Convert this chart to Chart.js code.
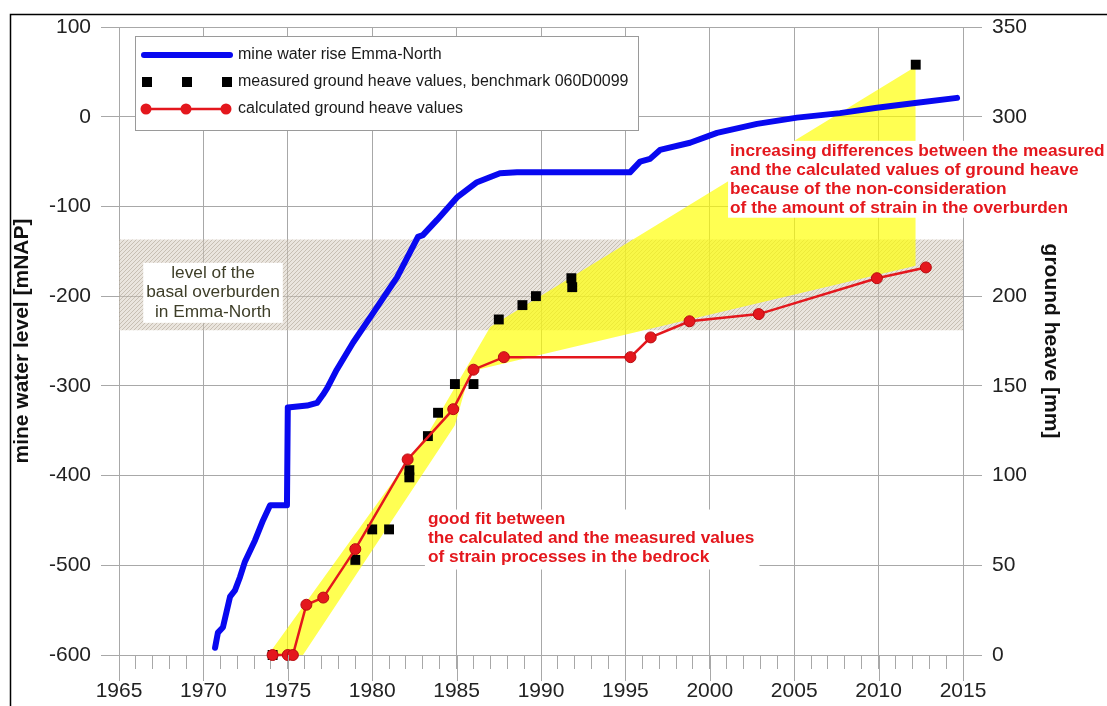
<!DOCTYPE html>
<html lang="en">
<head>
<meta charset="utf-8">
<title>mine water rise and ground heave, Emma-North</title>
<script src="https://cdn.jsdelivr.net/npm/chart.js@4.4.0/dist/chart.umd.min.js"></script>
<style>
  html, body { margin: 0; padding: 0; background: #fff; }
  #wrap { width: 1107px; height: 706px; }
</style>
</head>
<body>
<div id="wrap"><canvas id="myChart" width="1107" height="706"></canvas></div>
<script>
// mine water rise Emma-North [mNAP]
var waterYears = [1970.69, 1970.86, 1971.16, 1971.58, 1971.87, 1972.17, 1972.46, 1973.06, 1973.53, 1973.95,
                  1974.95, 1975.0, 1976.14, 1976.73, 1977.08, 1977.35, 1977.9, 1978.86, 1980.05, 1981.47,
                  1982.71, 1983.0, 1983.84, 1985.02, 1986.21, 1987.57, 1988.58, 1995.27, 1995.87, 1996.46,
                  1997.05, 1998.83, 2000.43, 2002.8, 2005.17, 2007.71, 2009.9, 2012.04, 2014.65];
var waterLevel = [-592, -575, -569, -535, -528, -513, -496, -472, -450, -433,
                  -433, -324, -322, -319, -310, -302, -282, -252, -219, -179,
                  -134, -132, -115, -90, -73, -63, -62, -62, -50, -47,
                  -37, -29, -18, -8, -1, 4, 10, 15, 21];

// measured ground heave values, benchmark 060D0099 [mm]
var measYears = [1974.1, 1979.0, 1980.0, 1981.0, 1982.2, 1982.2, 1983.3, 1983.9, 1984.9, 1986.0,
                 1987.5, 1988.9, 1989.7, 1991.8, 1991.85, 2012.2];
var measHeave = [0, 53, 70, 70, 103, 99, 122, 135, 151, 151,
                 187, 195, 200, 210, 205, 329];

// calculated ground heave values [mm]
var calcYears = [1974.1, 1975.0, 1975.3, 1976.1, 1977.1, 1979.0, 1982.1, 1984.8, 1986.0, 1987.8,
                 1995.3, 1996.5, 1998.8, 2002.9, 2009.9, 2012.8];
var calcHeave = [0, 0, 0, 28, 32, 59, 109, 137, 159, 166,
                 166, 177, 186, 190, 210, 216];

// yellow envelope round the heave values [mm]
var envUpperYears = [1973.83, 1983.4, 1987.0, 2012.2];
var envUpperHeave = [0, 125, 183, 328];
var envLowerYears = [1973.83, 1975.9, 1984.9, 1985.8, 2012.2];
var envLowerHeave = [0, 0, 128, 158, 217];

// level of the basal overburden [mNAP]
var bandYears = [1965, 2015];
var bandTop = [-137, -137];
var bandBottom = [-238, -238];

// tick labels
var yearLabels = [1965, 1970, 1975, 1980, 1985, 1990, 1995, 2000, 2005, 2010, 2015];
var levelTicks = [100, 0, -100, -200, -300, -400, -500, -600];
var heaveTicks = [0, 50, 100, 150, 200, 250, 300, 350];

function xy(xs, ys) {
    return xs.map(function(x, i) { return {x: x, y: ys[i]}; });
}

var gridColor = '#a8a8a8';
var redColor = '#e4171d';
var blueColor = '#0808f0';
var noteFont = '17.3px "Liberation Sans", Arial, sans-serif';

// hatch for the overburden band
function hatch() {
    var c = document.createElement('canvas');
    c.width = 4; c.height = 4;
    var g = c.getContext('2d');
    g.fillStyle = 'rgba(214,204,190,0.5)';
    g.fillRect(0, 0, 4, 4);
    g.strokeStyle = 'rgba(150,138,120,0.42)';
    g.lineWidth = 1;
    g.beginPath();
    g.moveTo(0, 4); g.lineTo(4, 0);
    g.moveTo(-1, 1); g.lineTo(1, -1);
    g.moveTo(3, 5); g.lineTo(5, 3);
    g.stroke();
    return g.createPattern(c, 'repeat');
}

Chart.defaults.font.family = '"Liberation Sans", Arial, sans-serif';
Chart.defaults.color = '#222';

var notes = [
    {year: 1970.57, level: -174, align: 'center', color: '#3e3e28', bold: false, gap: 19.5,
     pad: [10, 3, 11, 3],
     lines: ['level of the', 'basal overburden', 'in Emma-North']},
    {year: 1983.3, level: -449, align: 'left', color: redColor, bold: true, gap: 19,
     pad: [10, 5, 12, 3],
     lines: ['good fit between', 'the calculated and the measured values', 'of strain processes in the bedrock']},
    {year: 2001.2, level: -38, align: 'left', color: redColor, bold: true, gap: 19.3,
     pad: [10, 6, 9, 2],
     lines: ['increasing differences between the measured', 'and the calculated values of ground heave',
             'because of the non-consideration', 'of the amount of strain in the overburden']}
];

var frame = {
    id: 'frame',
    beforeDraw: function(chart) {
        var ctx = chart.ctx;
        ctx.save();
        ctx.fillStyle = '#fff';
        ctx.fillRect(0, 0, chart.width, chart.height);
        ctx.strokeStyle = '#000';
        ctx.lineWidth = 1.5;
        ctx.beginPath();
        ctx.moveTo(10.5, chart.height);
        ctx.lineTo(10.5, 14.5);
        ctx.lineTo(chart.width, 14.5);
        ctx.stroke();
        ctx.restore();
    },
    afterDraw: function(chart) {
        // longer ticks on the 5 year marks
        var ctx = chart.ctx, sx = chart.scales.x, b = chart.chartArea.bottom;
        ctx.save();
        ctx.strokeStyle = gridColor;
        ctx.lineWidth = 1;
        yearLabels.forEach(function(y) {
            var px = Math.round(sx.getPixelForValue(y)) + 0.5;
            ctx.beginPath();
            ctx.moveTo(px, b);
            ctx.lineTo(px, b + 26);
            ctx.stroke();
        });
        ctx.restore();
    }
};

var annotations = {
    id: 'annotations',
    afterDatasetsDraw: function(chart) {
        var ctx = chart.ctx, sx = chart.scales.x, sy = chart.scales.yL;
        ctx.save();
        notes.forEach(function(n) {
            ctx.font = (n.bold ? 'bold ' : '') + noteFont;
            var x = sx.getPixelForValue(n.year);
            var y = sy.getPixelForValue(n.level);
            var w = 0;
            n.lines.forEach(function(t) { w = Math.max(w, ctx.measureText(t).width); });
            var left = n.align === 'center' ? x - w / 2 : x;
            ctx.fillStyle = '#fff';
            ctx.fillRect(left - n.pad[3], y - n.pad[0], w + n.pad[3] + n.pad[1],
                         (n.lines.length - 1) * n.gap + n.pad[0] + n.pad[2]);
            ctx.fillStyle = n.color;
            ctx.textAlign = n.align;
            ctx.textBaseline = 'middle';
            n.lines.forEach(function(t, i) { ctx.fillText(t, x, y + i * n.gap); });
        });
        ctx.restore();
    }
};

var legendBox = {
    id: 'legendBox',
    afterDraw: function(chart) {
        var ctx = chart.ctx, a = chart.chartArea;
        var x0 = a.left + 16, y0 = a.top + 9;
        ctx.save();
        ctx.fillStyle = '#fff';
        ctx.fillRect(x0, y0, 503, 94);
        ctx.strokeStyle = '#9a9a9a';
        ctx.lineWidth = 1;
        ctx.strokeRect(x0 + 0.5, y0 + 0.5, 503, 94);

        // blue line
        ctx.strokeStyle = blueColor;
        ctx.lineWidth = 6;
        ctx.lineCap = 'round';
        ctx.beginPath();
        ctx.moveTo(x0 + 9, y0 + 19);
        ctx.lineTo(x0 + 95, y0 + 19);
        ctx.stroke();

        // black squares
        ctx.fillStyle = '#000';
        [12, 52, 92].forEach(function(d) { ctx.fillRect(x0 + d - 5, y0 + 46 - 5, 10, 10); });

        // red line with dots
        ctx.strokeStyle = redColor;
        ctx.lineWidth = 2.5;
        ctx.lineCap = 'butt';
        ctx.beginPath();
        ctx.moveTo(x0 + 11, y0 + 73);
        ctx.lineTo(x0 + 91, y0 + 73);
        ctx.stroke();
        ctx.fillStyle = redColor;
        [11, 51, 91].forEach(function(d) {
            ctx.beginPath();
            ctx.arc(x0 + d, y0 + 73, 5.5, 0, Math.PI * 2);
            ctx.fill();
        });

        ctx.fillStyle = '#1a1a1a';
        ctx.font = '16px "Liberation Sans", Arial, sans-serif';
        ctx.textAlign = 'left';
        ctx.textBaseline = 'middle';
        ctx.fillText('mine water rise Emma-North', x0 + 103, y0 + 19);
        ctx.fillText('measured ground heave values, benchmark 060D0099', x0 + 103, y0 + 46);
        ctx.fillText('calculated ground heave values', x0 + 103, y0 + 73);
        ctx.restore();
    }
};

var ctx = document.getElementById('myChart').getContext('2d');
var myChart = new Chart(ctx, {
    type: 'line',
    data: {
        datasets: [{
            label: 'calculated ground heave values',
            data: xy(calcYears, calcHeave),
            yAxisID: 'yR',
            borderColor: redColor,
            borderWidth: 2.5,
            backgroundColor: redColor,
            pointRadius: 5.5,
            pointBorderColor: '#b80c10',
            pointBorderWidth: 1,
            clip: false
        }, {
            label: 'measured ground heave values, benchmark 060D0099',
            data: xy(measYears, measHeave),
            yAxisID: 'yR',
            showLine: false,
            pointStyle: 'rect',
            pointRadius: 7,
            backgroundColor: '#000',
            pointBorderWidth: 0,
            clip: false
        }, {
            label: 'mine water rise Emma-North',
            data: xy(waterYears, waterLevel),
            yAxisID: 'yL',
            borderColor: blueColor,
            borderWidth: 6,
            borderCapStyle: 'round',
            borderJoinStyle: 'round',
            pointRadius: 0
        }, {
            label: 'envelope upper',
            data: xy(envUpperYears, envUpperHeave),
            yAxisID: 'yR',
            borderWidth: 0,
            pointRadius: 0,
            backgroundColor: 'rgba(255,255,0,0.68)',
            fill: 4
        }, {
            label: 'envelope lower',
            data: xy(envLowerYears, envLowerHeave),
            yAxisID: 'yR',
            borderWidth: 0,
            pointRadius: 0
        }, {
            label: 'overburden top',
            data: xy(bandYears, bandTop),
            yAxisID: 'yL',
            borderWidth: 0,
            pointRadius: 0,
            backgroundColor: hatch(),
            fill: 6
        }, {
            label: 'overburden bottom',
            data: xy(bandYears, bandBottom),
            yAxisID: 'yL',
            borderWidth: 0,
            pointRadius: 0
        }]
    },
    options: {
        responsive: false,
        animation: false,
        devicePixelRatio: 1,
        layout: { padding: { left: 10, top: 27, right: 0, bottom: 0 } },
        plugins: {
            legend: { display: false },
            tooltip: { enabled: false }
        },
        scales: {
            x: {
                type: 'linear',
                position: 'bottom',
                min: 1965,
                max: 2015,
                afterBuildTicks: function(s) {
                    s.ticks = [];
                    for (var y = 1965; y <= 2015; y++) s.ticks.push({value: y});
                },
                afterFit: function(s) { s.height = 51; },
                ticks: {
                    autoSkip: false,
                    maxRotation: 0,
                    padding: 10,
                    font: { size: 21 },
                    callback: function(v) { return yearLabels.indexOf(v) >= 0 ? String(v) : ''; }
                },
                grid: {
                    color: function(c) { return (c.tick && yearLabels.indexOf(c.tick.value) >= 0) ? gridColor : 'rgba(0,0,0,0)'; },
                    tickColor: gridColor,
                    tickLength: 14
                },
                border: { color: gridColor }
            },
            yL: {
                type: 'linear',
                position: 'left',
                min: -600,
                max: 100,
                afterBuildTicks: function(s) { s.ticks = levelTicks.map(function(v) { return {value: v}; }); },
                afterFit: function(s) { s.width = 109; },
                ticks: { padding: 10, font: { size: 21 } },
                grid: { color: gridColor, tickLength: 18 },
                border: { color: gridColor },
                title: {
                    display: true,
                    text: 'mine water level [mNAP]',
                    color: '#111',
                    font: { size: 21, weight: 'bold' },
                    padding: { top: 0, bottom: 0 }
                }
            },
            yR: {
                type: 'linear',
                position: 'right',
                min: 0,
                max: 350,
                afterBuildTicks: function(s) { s.ticks = heaveTicks.map(function(v) { return {value: v}; }); },
                afterFit: function(s) { s.width = 144; },
                ticks: { padding: 10, font: { size: 21 } },
                grid: { drawOnChartArea: false, color: gridColor, tickLength: 19 },
                border: { color: gridColor },
                title: {
                    display: true,
                    text: 'ground heave [mm]',
                    color: '#111',
                    font: { size: 21, weight: 'bold' },
                    padding: { top: 44, bottom: 0 }
                }
            }
        }
    },
    plugins: [frame, annotations, legendBox]
});
</script>
</body>
</html>
